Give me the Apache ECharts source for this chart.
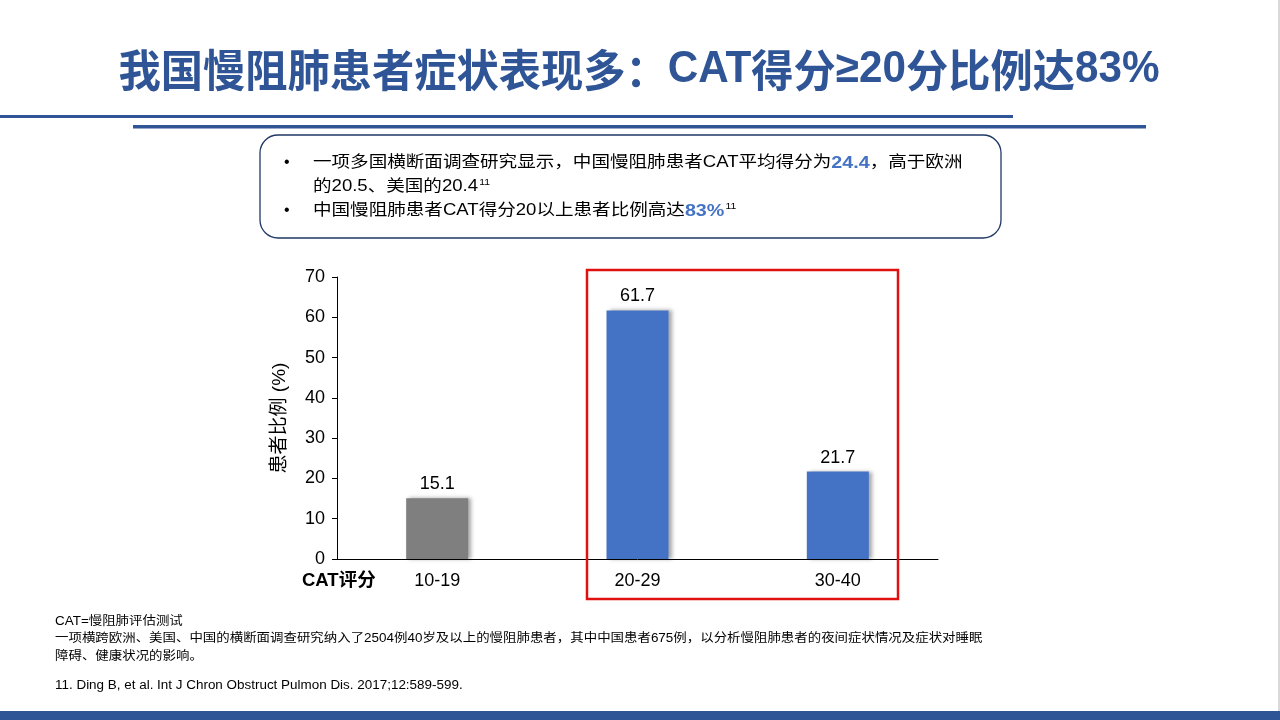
<!DOCTYPE html>
<html>
<head>
<meta charset="utf-8">
<script src="https://cdn.jsdelivr.net/npm/echarts@6/dist/echarts.min.js"></script>
<style>
  html, body { margin: 0; padding: 0; background: #fff; }
  #main { width: 1280px; height: 720px; }
</style>
</head>
<body>
<div id="main"></div>
<script>
// CAT score groups and share of patients (%)
var categories = ['10-19', '20-29', '30-40'];
var values = [15.1, 61.7, 21.7];
var barColors = ['#7F7F7F', '#4472C4', '#4472C4'];
var yTicks = { min: 0, max: 70, interval: 10 };

var chart = echarts.init(document.getElementById('main'));
var FONT = '"Liberation Sans", Arial, "Noto Sans CJK SC", sans-serif';
var CJK = '"Noto Sans CJK SC", sans-serif';
var navy = '#2F5597';

var richBody = {
    n: { fontSize: 16, fill: '#000', fontFamily: FONT },
    b: { fontSize: 17, fill: '#4472C4', fontWeight: 'bold', fontFamily: FONT },
    s: { fontSize: 9, fill: '#000', fontFamily: FONT, padding: [0, 0, 9, 1] }
};

function note(text, y) {
    return {
        type: 'text', x: 55, y: y, scaleX: 1.12,
        style: { text: text, fill: '#000', fontSize: 12, fontFamily: FONT, verticalAlign: 'middle' }
    };
}

var option = {
    backgroundColor: '#fff',
    textStyle: { fontFamily: FONT },
    grid: { left: 337, top: 277, width: 601, height: 282 },
    xAxis: {
        type: 'category',
        data: categories,
        axisLine: { lineStyle: { color: '#000', width: 1 } },
        axisTick: { show: false },
        axisLabel: { color: '#000', fontSize: 18, margin: 13, fontFamily: FONT }
    },
    yAxis: {
        type: 'value',
        min: yTicks.min,
        max: yTicks.max,
        interval: yTicks.interval,
        name: '患者比例 (%)',
        nameLocation: 'middle',
        nameRotate: 90,
        nameGap: 48,
        nameTextStyle: { color: '#000', fontSize: 19, fontFamily: FONT },
        axisLine: { show: true, lineStyle: { color: '#000', width: 1 } },
        axisTick: { show: true, length: 5, lineStyle: { color: '#000' } },
        splitLine: { show: false },
        axisLabel: { color: '#000', fontSize: 18, margin: 12, fontFamily: FONT }
    },
    series: [{
        type: 'bar',
        barWidth: 62,
        data: values.map(function (v, i) {
            return { value: v, itemStyle: { color: barColors[i] } };
        }),
        itemStyle: {
            shadowColor: 'rgba(0,0,0,0.35)',
            shadowBlur: 4,
            shadowOffsetX: 3,
            shadowOffsetY: 0
        },
        label: {
            show: true,
            position: 'top',
            distance: 5,
            color: '#000',
            fontSize: 18,
            fontFamily: FONT
        }
    }],
    graphic: [
        // title
        {
            type: 'text', x: 639, y: 70, scaleX: 0.96,
            style: {
                text: '{c|我国慢阻肺患者症状表现多：}{l|CAT}{c|得分}{l|≥20}{c|分比例达}{l|83%}',
                align: 'center', verticalAlign: 'middle',
                rich: {
                    c: { fill: navy, fontSize: 44, fontWeight: 'bold', fontFamily: CJK },
                    l: { fill: navy, fontSize: 44, fontWeight: 'bold', fontFamily: '"Liberation Sans", Arial, sans-serif' }
                }
            }
        },
        // decorative lines
        { type: 'rect', shape: { x: 0, y: 115, width: 1013, height: 3 }, style: { fill: navy } },
        { type: 'rect', shape: { x: 133, y: 125, width: 1013, height: 3.5 }, style: { fill: navy } },
        { type: 'rect', shape: { x: 1278, y: 0, width: 2, height: 712 }, style: { fill: '#D9D9D9' } },
        { type: 'rect', shape: { x: 0, y: 711, width: 1280, height: 9 }, style: { fill: navy } },
        // summary box
        {
            type: 'rect',
            shape: { x: 260, y: 135, width: 741, height: 103, r: 18 },
            style: { fill: '#fff', stroke: '#1F3864', lineWidth: 1.3 }
        },
        { type: 'text', x: 284, y: 163, style: { text: '•', fill: '#000', fontSize: 16, fontFamily: FONT, verticalAlign: 'middle' } },
        { type: 'text', x: 284, y: 211, style: { text: '•', fill: '#000', fontSize: 16, fontFamily: FONT, verticalAlign: 'middle' } },
        {
            type: 'text', x: 313, y: 163, scaleX: 1.16,
            style: {
                text: '{n|一项多国横断面调查研究显示，中国慢阻肺患者CAT平均得分为}{b|24.4}{n|，高于欧洲}',
                verticalAlign: 'middle', rich: richBody
            }
        },
        {
            type: 'text', x: 313, y: 187, scaleX: 1.16,
            style: {
                text: '{n|的20.5、美国的20.4}{s|11}',
                verticalAlign: 'middle', rich: richBody
            }
        },
        {
            type: 'text', x: 313, y: 211, scaleX: 1.16,
            style: {
                text: '{n|中国慢阻肺患者CAT得分20以上患者比例高达}{b|83%}{s|11}',
                verticalAlign: 'middle', rich: richBody
            }
        },
        // x axis caption
        {
            type: 'text', x: 302, y: 581,
            style: { text: 'CAT评分', fill: '#000', fontSize: 18.5, fontWeight: 'bold', fontFamily: FONT, verticalAlign: 'middle' }
        },
        // highlight frame
        {
            type: 'rect',
            shape: { x: 587, y: 270, width: 311, height: 329 },
            style: { fill: 'none', stroke: '#E01010', lineWidth: 2.5 },
            z: 10
        },
        // footnotes
        note('CAT=慢阻肺评估测试', 622),
        note('一项横跨欧洲、美国、中国的横断面调查研究纳入了2504例40岁及以上的慢阻肺患者，其中中国患者675例，以分析慢阻肺患者的夜间症状情况及症状对睡眠', 639),
        note('障碍、健康状况的影响。', 657),
        note('11. Ding B, et al. Int J Chron Obstruct Pulmon Dis. 2017;12:589-599.', 686)
    ]
};

chart.setOption(option);
</script>
</body>
</html>
